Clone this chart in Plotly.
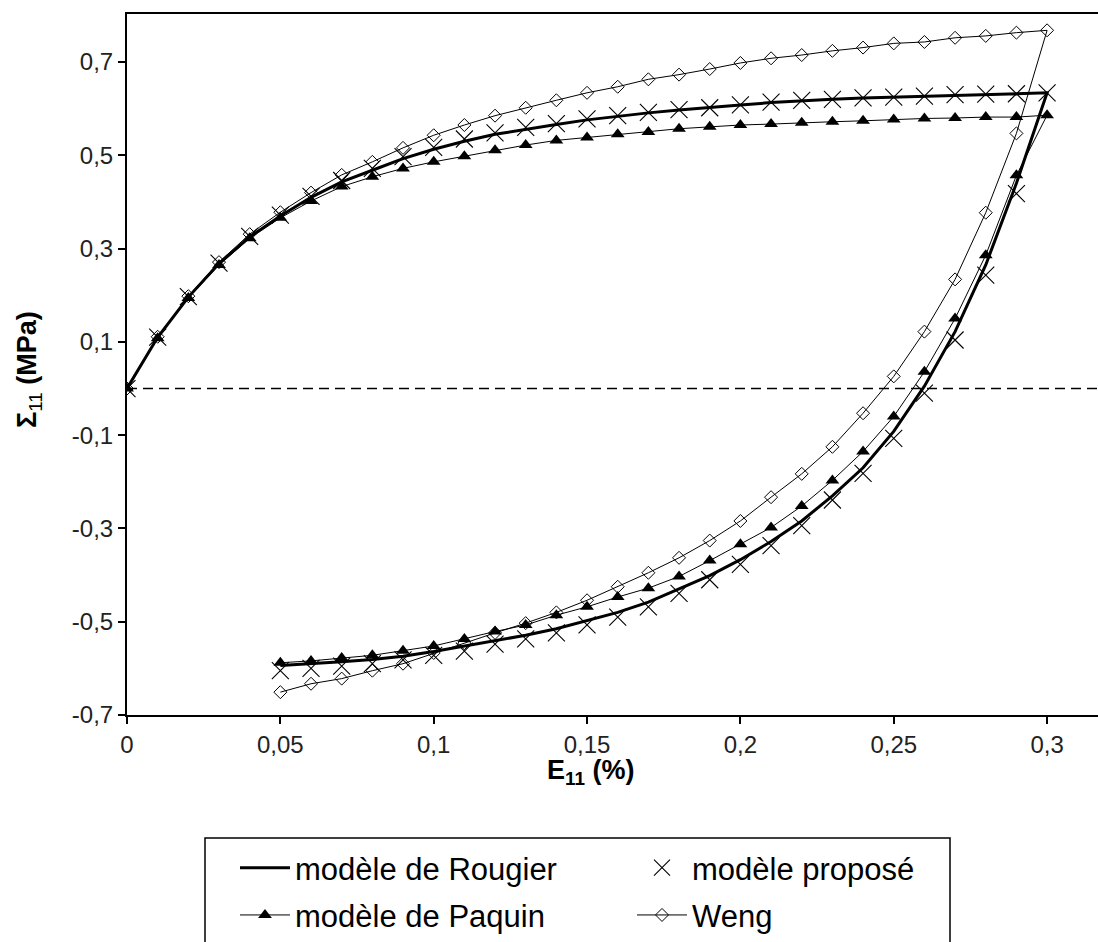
import plotly.graph_objects as go

# ---------------- data ----------------
x_load = [0.00, 0.01, 0.02, 0.03, 0.04, 0.05, 0.06, 0.07, 0.08, 0.09, 0.10,
          0.11, 0.12, 0.13, 0.14, 0.15, 0.16, 0.17, 0.18, 0.19, 0.20,
          0.21, 0.22, 0.23, 0.24, 0.25, 0.26, 0.27, 0.28, 0.29, 0.30]
x_unload = [0.29, 0.28, 0.27, 0.26, 0.25, 0.24, 0.23, 0.22, 0.21, 0.20,
            0.19, 0.18, 0.17, 0.16, 0.15, 0.14, 0.13, 0.12, 0.11, 0.10,
            0.09, 0.08, 0.07, 0.06, 0.05]

rougier_load = [0, 0.110, 0.196, 0.268, 0.325, 0.370, 0.410, 0.443, 0.468, 0.493, 0.513,
                0.530, 0.545, 0.556, 0.566, 0.576, 0.584, 0.591, 0.597, 0.603, 0.608,
                0.613, 0.617, 0.620, 0.623, 0.625, 0.627, 0.629, 0.631, 0.632, 0.634]
rougier_unload = [0.440, 0.265, 0.122, 0.005, -0.092, -0.170, -0.230, -0.284, -0.328, -0.367,
                  -0.401, -0.430, -0.458, -0.480, -0.498, -0.515, -0.529, -0.541, -0.553, -0.564,
                  -0.574, -0.581, -0.586, -0.590, -0.594]

propose_load = [0, 0.110, 0.197, 0.269, 0.326, 0.372, 0.412, 0.446, 0.472, 0.497, 0.517,
                0.535, 0.548, 0.560, 0.568, 0.578, 0.585, 0.592, 0.598, 0.602, 0.608,
                0.614, 0.618, 0.620, 0.623, 0.625, 0.627, 0.630, 0.631, 0.632, 0.634]
propose_unload = [0.418, 0.243, 0.104, -0.010, -0.107, -0.182, -0.239, -0.294, -0.337, -0.377,
                  -0.410, -0.439, -0.468, -0.490, -0.507, -0.524, -0.537, -0.548, -0.563, -0.572,
                  -0.582, -0.590, -0.595, -0.600, -0.605]

paquin_load = [0, 0.108, 0.194, 0.265, 0.322, 0.366, 0.402, 0.433, 0.454, 0.472, 0.486,
               0.498, 0.511, 0.522, 0.532, 0.538, 0.545, 0.550, 0.557, 0.561, 0.565,
               0.567, 0.570, 0.572, 0.574, 0.577, 0.579, 0.580, 0.582, 0.582, 0.586]
paquin_unload = [0.457, 0.286, 0.150, 0.036, -0.060, -0.135, -0.197, -0.252, -0.298, -0.334,
                 -0.369, -0.403, -0.428, -0.447, -0.468, -0.486, -0.507, -0.521, -0.537, -0.552,
                 -0.562, -0.572, -0.578, -0.584, -0.588]

weng_load = [0, 0.111, 0.198, 0.271, 0.331, 0.378, 0.420, 0.458, 0.486, 0.516, 0.543,
             0.565, 0.585, 0.602, 0.618, 0.634, 0.647, 0.663, 0.673, 0.685, 0.698,
             0.708, 0.715, 0.724, 0.731, 0.740, 0.743, 0.752, 0.756, 0.763, 0.768]
weng_unload = [0.547, 0.377, 0.234, 0.122, 0.026, -0.053, -0.125, -0.183, -0.233, -0.284,
               -0.326, -0.363, -0.395, -0.425, -0.454, -0.480, -0.503, -0.524, -0.546, -0.567,
               -0.590, -0.605, -0.622, -0.633, -0.651]

x_ticks = [0, 0.05, 0.10, 0.15, 0.20, 0.25, 0.30]
x_ticklabels = ["0", "0,05", "0,1", "0,15", "0,2", "0,25", "0,3"]
y_ticks = [-0.7, -0.5, -0.3, -0.1, 0.1, 0.3, 0.5, 0.7]
y_ticklabels = ["-0,7", "-0,5", "-0,3", "-0,1", "0,1", "0,3", "0,5", "0,7"]

names = ["modèle de Rougier", "modèle proposé", "modèle de Paquin", "Weng"]

# ---------------- figure ----------------
xs = x_load + x_unload
FONT = "Liberation Sans, Arial, sans-serif"

fig = go.Figure()

fig.add_trace(go.Scatter(
    x=xs, y=weng_load + weng_unload, name=names[3], legend="legend2", legendrank=2,
    legendgroup="weng",
    mode="lines+markers",
    line=dict(color="black", width=1),
    marker=dict(symbol="diamond-open", size=10, color="black", line=dict(width=1)),
))
fig.add_trace(go.Scatter(
    x=xs, y=paquin_load + paquin_unload, name=names[2], legend="legend", legendrank=2,
    legendgroup="paquin",
    mode="lines+markers",
    line=dict(color="black", width=1),
    marker=dict(symbol="triangle-up", size=12, color="black"),
))
fig.add_trace(go.Scatter(
    x=xs, y=propose_load + propose_unload, name=names[1], legend="legend2", legendrank=1,
    legendgroup="propose",
    mode="markers",
    marker=dict(symbol="x-thin-open", size=17, color="black", line=dict(width=1.1, color="black")),
))
fig.add_trace(go.Scatter(
    x=xs, y=rougier_load + rougier_unload, name=names[0], legend="legend", legendrank=1,
    legendgroup="rougier",
    mode="lines",
    line=dict(color="black", width=3),
))

# zero reference line
fig.add_shape(type="line", xref="paper", yref="y", x0=0, x1=1, y0=0, y1=0,
              line=dict(color="black", width=1.5, dash="10px,6px"))

# legend frame
PLOT_L, PLOT_B, PLOT_W, PLOT_H = 127, 715, 971, 701
def px2paper_x(px):
    return (px - PLOT_L) / PLOT_W
def px2paper_y(py):
    return (PLOT_B - py) / PLOT_H

fig.add_shape(type="rect", xref="paper", yref="paper",
              x0=px2paper_x(205), x1=px2paper_x(950),
              y0=px2paper_y(838), y1=px2paper_y(960),
              line=dict(color="black", width=1.5), fillcolor="rgba(0,0,0,0)")

fig.add_annotation(xref="paper", yref="paper", x=px2paper_x(591), y=px2paper_y(772),
                   text="<b>E<sub>11</sub> (%)</b>", showarrow=False,
                   font=dict(family=FONT, size=27, color="black"),
                   xanchor="center", yanchor="middle")
fig.add_annotation(xref="paper", yref="paper", x=px2paper_x(29), y=px2paper_y(370),
                   text="<b>Σ</b><sub>11</sub><b> (MPa)</b>", showarrow=False,
                   textangle=-90,
                   font=dict(family=FONT, size=27, color="black"),
                   xanchor="center", yanchor="middle")

legend_common = dict(
    orientation="v", xanchor="left", yanchor="top",
    borderwidth=0, bgcolor="rgba(0,0,0,0)",
    font=dict(family=FONT, size=31, color="black"),
    itemwidth=50, tracegroupgap=4,
)

fig.update_layout(
    width=1098, height=942,
    margin=dict(l=127, r=0, t=14, b=227, autoexpand=False),
    paper_bgcolor="white", plot_bgcolor="white",
    font=dict(family=FONT, color="#222"),
    showlegend=True,
    legend=dict(x=px2paper_x(235), y=px2paper_y(841), **legend_common),
    legend2=dict(x=px2paper_x(632), y=px2paper_y(841), **legend_common),
)
fig.update_xaxes(
    range=[0, 0.3166], tickvals=x_ticks, ticktext=x_ticklabels,
    showline=True, linecolor="black", linewidth=2, mirror=True,
    ticks="outside", ticklen=7, tickwidth=1.5, tickcolor="black",
    showgrid=False, zeroline=False,
    tickfont=dict(family=FONT, size=24, color="#222"),
)
fig.update_yaxes(
    range=[-0.7, 0.803], tickvals=y_ticks, ticktext=y_ticklabels,
    showline=True, linecolor="black", linewidth=2,
    ticks="outside", ticklen=7, tickwidth=1.5, tickcolor="black",
    showgrid=False, zeroline=False,
    tickfont=dict(family=FONT, size=24, color="#222"),
)

fig.write_html("out.html", config={"displayModeBar": False},
               post_script="document.body.style.margin='0';")
